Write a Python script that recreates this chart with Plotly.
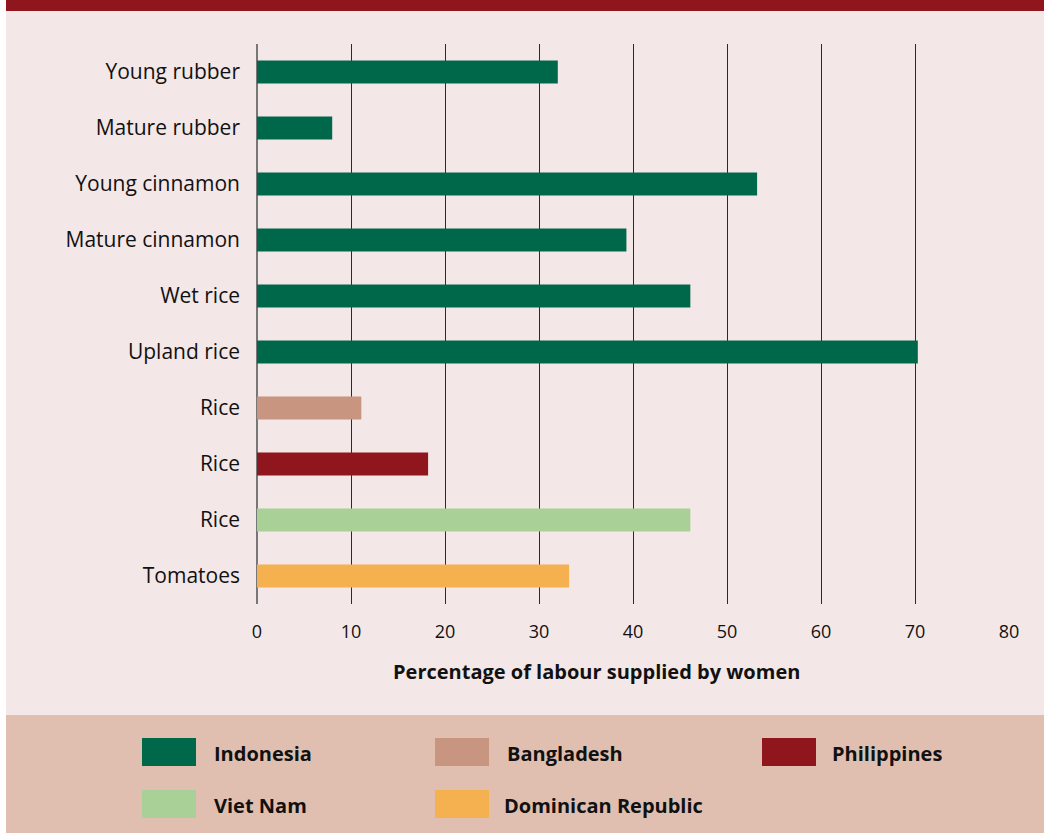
import plotly.graph_objects as go

# Crop labels (top to bottom) and the country each study refers to
crops = ["Young rubber", "Mature rubber", "Young cinnamon", "Mature cinnamon",
         "Wet rice", "Upland rice", "Rice", "Rice", "Rice", "Tomatoes"]
countries = ["Indonesia", "Indonesia", "Indonesia", "Indonesia", "Indonesia",
             "Indonesia", "Bangladesh", "Philippines", "Viet Nam", "Dominican Republic"]
women_share = [32.0, 8.0, 53.2, 39.3, 46.1, 70.3, 11.1, 18.2, 46.1, 33.2]

x_ticks = [0, 10, 20, 30, 40, 50, 60, 70, 80]

country_order = ["Indonesia", "Bangladesh", "Philippines", "Viet Nam", "Dominican Republic"]
country_colors = {
    "Indonesia": "#00684A",
    "Bangladesh": "#C89580",
    "Philippines": "#8E161C",
    "Viet Nam": "#A9D097",
    "Dominican Republic": "#F5B050",
}

W, H = 1044, 833
L, R, T, B = 257, 35, 44, 229
PW, PH = W - L - R, H - T - B

def px(x):
    return (x - L) / PW

def py(y):
    return (H - B - y) / PH

FONT = "Open Sans"

fig = go.Figure()
for c in country_order:
    idx = [i for i, k in enumerate(countries) if k == c]
    fig.add_trace(go.Bar(
        x=[women_share[i] for i in idx],
        y=idx,
        orientation="h",
        marker=dict(color=country_colors[c], line=dict(width=0)),
        width=0.41,
        name=c,
        showlegend=False,
        hoverinfo="x+name",
    ))

shapes = [
    # panel backgrounds
    dict(type="rect", xref="paper", yref="paper", x0=px(6), x1=px(W), y0=py(11), y1=py(715),
         fillcolor="#F4E7E7", line=dict(width=0), layer="below"),
    dict(type="rect", xref="paper", yref="paper", x0=px(6), x1=px(W), y0=py(715), y1=py(H),
         fillcolor="#E0BFB0", line=dict(width=0), layer="below"),
    dict(type="rect", xref="paper", yref="paper", x0=px(6), x1=px(W), y0=py(0), y1=py(11),
         fillcolor="#8E161C", line=dict(width=0), layer="below"),
]

annotations = [
    dict(text="<b>Percentage of labour supplied by women</b>", xref="paper", yref="paper",
         x=px(596), y=py(671), showarrow=False, xanchor="center", yanchor="middle",
         font=dict(family=FONT, size=20, color="#111")),
]

# legend: swatch + label positions (pixels)
legend_slots = [
    (142, 752, 212), (435, 752, 505), (762, 752, 830),
    (142, 804, 212), (435, 804, 502),
]
for c, (sx, cy, tx) in zip(country_order, legend_slots):
    shapes.append(dict(type="rect", xref="paper", yref="paper",
                       x0=px(sx), x1=px(sx + 54), y0=py(cy - 14), y1=py(cy + 14),
                       fillcolor=country_colors[c], line=dict(width=0)))
    annotations.append(dict(text=f"<b>{c}</b>", xref="paper", yref="paper",
                            x=px(tx), y=py(cy + 1), showarrow=False,
                            xanchor="left", yanchor="middle",
                            font=dict(family=FONT, size=20, color="#111")))

fig.update_layout(
    width=W, height=H,
    margin=dict(l=L, r=R, t=T, b=B, pad=0),
    paper_bgcolor="white",
    plot_bgcolor="rgba(0,0,0,0)",
    shapes=shapes,
    annotations=annotations,
    xaxis=dict(
        range=[0, 80], tickvals=x_ticks, ticks="",
        showgrid=True, gridcolor="#2a2a2a", gridwidth=1.2,
        zeroline=True, zerolinecolor="#777777", zerolinewidth=2,
        showline=False, ticklabelstandoff=15,
        tickfont=dict(family=FONT, size=18, color="#111"),
        fixedrange=True,
    ),
    yaxis=dict(
        range=[9.5, -0.5], tickvals=list(range(len(crops))), ticktext=crops,
        ticks="", showgrid=False, zeroline=False, showline=False,
        ticklabelstandoff=16,
        tickfont=dict(family=FONT, size=21, color="#111"),
        fixedrange=True,
    ),
)

fig.write_html("out.html")
